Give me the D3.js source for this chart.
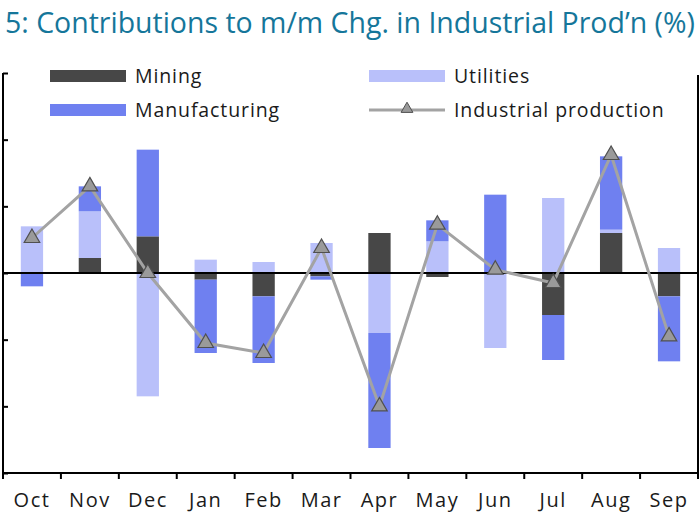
<!DOCTYPE html>
<html>
<head>
<meta charset="utf-8">
<script src="https://cdnjs.cloudflare.com/ajax/libs/d3/7.8.5/d3.min.js"></script>
<style>
  html, body { margin: 0; padding: 0; background: #fff; }
  svg { display: block; }
</style>
</head>
<body>
<svg id="chart" width="700" height="525"></svg>
<script>
const months = ["Oct","Nov","Dec","Jan","Feb","Mar","Apr","May","Jun","Jul","Aug","Sep"];
const mining        = [0.00, 0.045, 0.11, -0.02, -0.07, -0.01, 0.12, -0.012, 0.00, -0.126, 0.12, -0.07];
const utilities     = [0.14, 0.14, -0.37, 0.04, 0.033, 0.09, -0.18, 0.095, -0.225, 0.225, 0.01, 0.075];
const manufacturing = [-0.04, 0.075, 0.26, -0.22, -0.20, -0.01, -0.345, 0.063, 0.235, -0.135, 0.22, -0.195];
const industrialProduction = [0.105, 0.26, 0.00, -0.21, -0.24, 0.075, -0.40, 0.145, 0.01, -0.03, 0.354, -0.19];
const yTicks = [-0.6, -0.4, -0.2, 0, 0.2, 0.4, 0.6];
const seriesKeys = ["Mining", "Utilities", "Manufacturing"];
const seriesColors = { Mining: "#474747", Utilities: "#b9c0fa", Manufacturing: "#6f80f0" };

const svg = d3.select("#chart");
const plotLeft = 3, plotRight = 698, plotTop = 73, plotBottom = 473;

const x = d3.scaleBand().domain(months).range([plotLeft, plotRight]).padding(0);
const y = d3.scaleLinear().domain([-0.6, 0.6]).range([plotBottom, plotTop]);
const barW = x.bandwidth() * 0.385;

// Title
const title = svg.append("text")
  .attr("x", 5).attr("y", 33)
  .attr("fill", "#15769a")
  .style("font-family", "'Open Sans', sans-serif")
  .style("font-weight", "500")
  .style("font-size", "100px")
  .text("5: Contributions to m/m Chg. in Industrial Prod\u2019n (%)");
const tw = title.node().getComputedTextLength();
title.style("font-size", (100 * 690 / tw).toFixed(2) + "px");

// Stack data
const table = months.map((m, i) => ({
  month: m, Mining: mining[i], Utilities: utilities[i], Manufacturing: manufacturing[i]
}));
const stacked = d3.stack().keys(seriesKeys).offset(d3.stackOffsetDiverging)(table);

const g = svg.append("g");
g.selectAll("g.series").data(stacked).join("g")
  .attr("class", "series")
  .attr("fill", d => seriesColors[d.key])
  .selectAll("rect").data(d => d).join("rect")
  .attr("x", d => x(d.data.month) + x.bandwidth() / 2 - barW / 2)
  .attr("width", barW)
  .attr("y", d => y(Math.max(d[0], d[1])))
  .attr("height", d => Math.abs(y(d[0]) - y(d[1])));

// Zero line
svg.append("line")
  .attr("x1", plotLeft).attr("x2", plotRight)
  .attr("y1", y(0)).attr("y2", y(0))
  .attr("stroke", "#000").attr("stroke-width", 2);

// Frame: left, right, bottom
svg.append("path")
  .attr("d", `M${plotLeft},${plotTop} V${plotBottom} H${plotRight} V${plotTop + 2}`)
  .attr("fill", "none").attr("stroke", "#000").attr("stroke-width", 2);

// Left ticks
const yAxis = d3.axisLeft(y).tickValues(yTicks).tickSize(-5).tickFormat("");
svg.append("g").attr("transform", `translate(${plotLeft},0)`).call(yAxis)
  .call(s => s.select(".domain").remove())
  .selectAll("line").attr("stroke", "#000").attr("stroke-width", 2);

// Bottom ticks at category boundaries
const bounds = months.map(m => x(m)).concat([plotRight]);
svg.append("g").selectAll("line").data(bounds).join("line")
  .attr("x1", d => d).attr("x2", d => d)
  .attr("y1", plotBottom).attr("y2", plotBottom + 6)
  .attr("stroke", "#000").attr("stroke-width", 2);

// Bottom labels
const xAxis = d3.axisBottom(x).tickSize(0).tickPadding(0);
const xa = svg.append("g").attr("transform", `translate(0,${plotBottom})`).call(xAxis);
xa.select(".domain").remove();
xa.selectAll("text")
  .attr("y", 34).attr("dy", 0)
  .attr("fill", "#1a1a1a")
  .style("font-family", "'Open Sans', sans-serif")
  .style("font-size", "20px")
  .style("letter-spacing", "1.5px");

// IP line
const line = d3.line()
  .x((d, i) => x(months[i]) + x.bandwidth() / 2)
  .y(d => y(d));
svg.append("path").datum(industrialProduction)
  .attr("d", line)
  .attr("fill", "none").attr("stroke", "#a3a3a3").attr("stroke-width", 3);
svg.append("g").selectAll("path").data(industrialProduction).join("path")
  .attr("transform", (d, i) => `translate(${x(months[i]) + x.bandwidth() / 2},${y(d)})`)
  .attr("d", d3.symbol().type(d3.symbolTriangle).size(105))
  .attr("fill", "#9a9a9a").attr("stroke", "#505050").attr("stroke-width", 1.2);

// Legend
const legend = svg.append("g");
const legItems = [
  { label: "Mining", type: "rect", color: seriesColors.Mining, x: 50, y: 76 },
  { label: "Manufacturing", type: "rect", color: seriesColors.Manufacturing, x: 50, y: 110 },
  { label: "Utilities", type: "rect", color: seriesColors.Utilities, x: 369, y: 76 },
  { label: "Industrial production", type: "line", color: "#a3a3a3", x: 369, y: 110 }
];
legItems.forEach(it => {
  if (it.type === "rect") {
    legend.append("rect").attr("x", it.x).attr("y", it.y - 6).attr("width", 76).attr("height", 12)
      .attr("fill", it.color);
  } else {
    legend.append("line").attr("x1", it.x).attr("x2", it.x + 76).attr("y1", it.y).attr("y2", it.y)
      .attr("stroke", it.color).attr("stroke-width", 3);
    legend.append("path").attr("transform", `translate(${it.x + 38},${it.y - 1})`)
      .attr("d", d3.symbol().type(d3.symbolTriangle).size(60))
      .attr("fill", "#9a9a9a").attr("stroke", "#505050").attr("stroke-width", 1);
  }
  legend.append("text").attr("x", it.x + 85).attr("y", it.y + 7)
    .attr("fill", "#1a1a1a")
    .style("font-family", "'Open Sans', sans-serif")
    .style("font-size", "19.5px")
    .style("letter-spacing", "0.9px")
    .text(it.label);
});
</script>
</body>
</html>
